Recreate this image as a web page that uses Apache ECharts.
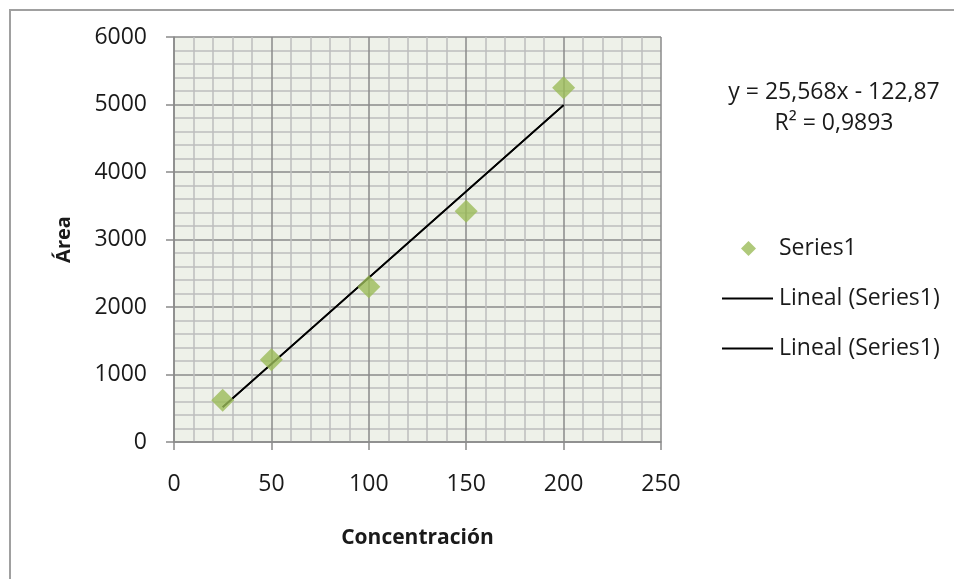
<!DOCTYPE html>
<html>
<head>
<meta charset="utf-8">
<script src="https://cdn.jsdelivr.net/npm/echarts@6/dist/echarts.min.js"></script>
<style>
  html, body { margin: 0; padding: 0; background: #ffffff; }
  #chart { width: 954px; height: 579px; }
</style>
</head>
<body>
<div id="chart"></div>
<script>
// Calibration data: concentration vs. peak area
const concentracion = [25, 50, 100, 150, 200];
const area = [620, 1220, 2300, 3420, 5250];

// Linear fit as reported with the chart
const pendiente = 25.568;
const intercepto = -122.87;
const r2 = 0.9893;

// Axis ticks
const xTicks = [0, 50, 100, 150, 200, 250];
const yTicks = [0, 1000, 2000, 3000, 4000, 5000, 6000];

const FONT = '"Open Sans"';
const fmt = (v, d) => v.toFixed(d).replace('.', ',');

const puntos = concentracion.map((x, i) => [x, area[i]]);
const xMin = concentracion[0], xMax = concentracion[concentracion.length - 1];
const ajuste = [xMin, xMax].map(x => [x, pendiente * x + intercepto]);

const ecuacion = 'y = ' + fmt(pendiente, 3) + 'x ' + (intercepto < 0 ? '- ' : '+ ') + fmt(Math.abs(intercepto), 2);
const rLinea = 'R² = ' + fmt(r2, 4);

const chart = echarts.init(document.getElementById('chart'), null, { renderer: 'canvas' });

const gridColorMajor = '#8a8a8a';
const gridColorMinor = '#bdbdbd';
const textColor = '#1a1a1a';

chart.setOption({
  animation: false,
  backgroundColor: '#ffffff',
  grid: {
    left: 174, top: 37, right: 293, bottom: 137,
    show: true, backgroundColor: '#eef1e9', borderWidth: 0
  },
  xAxis: {
    type: 'value',
    min: xTicks[0], max: xTicks[xTicks.length - 1], interval: 50,
    name: 'Concentración', nameLocation: 'middle', nameGap: 86,
    nameTextStyle: { fontFamily: FONT, fontWeight: 'bold', fontSize: 21, color: textColor },
    axisLine: { show: true, lineStyle: { color: gridColorMajor, width: 1.5 } },
    axisTick: { show: true, length: 8, lineStyle: { color: gridColorMajor, width: 1.5 } },
    axisLabel: { margin: 31, fontFamily: FONT, fontSize: 23, color: textColor,
                 formatter: v => String(v) },
    splitLine: { show: true, lineStyle: { color: gridColorMajor, width: 1.5 } },
    minorTick: { show: false, splitNumber: 5 },
    minorSplitLine: { show: true, lineStyle: { color: gridColorMinor, width: 1.5 } }
  },
  yAxis: {
    type: 'value',
    min: yTicks[0], max: yTicks[yTicks.length - 1], interval: 1000,
    name: 'Área', nameLocation: 'middle', nameGap: 100, nameRotate: 90,
    nameTextStyle: { fontFamily: FONT, fontWeight: 'bold', fontSize: 20, color: textColor },
    axisLine: { show: true, lineStyle: { color: gridColorMajor, width: 1.5 } },
    axisTick: { show: true, length: 8, lineStyle: { color: gridColorMajor, width: 1.5 } },
    axisLabel: { margin: 27, fontFamily: FONT, fontSize: 23, color: textColor,
                 formatter: v => String(v) },
    splitLine: { show: true, lineStyle: { color: gridColorMajor, width: 1.5 } },
    minorTick: { show: false, splitNumber: 5 },
    minorSplitLine: { show: true, lineStyle: { color: gridColorMinor, width: 1.5 } }
  },
  legend: [
    {
      data: [{ name: 'Series1', icon: 'diamond' }],
      left: 736, top: 232, orient: 'vertical',
      itemWidth: 15, itemHeight: 15,
      textStyle: { fontFamily: FONT, fontSize: 23, color: textColor, padding: [0, 0, 0, 18] },
      selectedMode: false
    },
    {
      data: [{ name: 'Lineal (Series1)', icon: 'rect', itemStyle: { color: '#000' } }],
      left: 717, top: 282, orient: 'vertical',
      itemWidth: 51, itemHeight: 2,
      textStyle: { fontFamily: FONT, fontSize: 23, color: textColor, padding: [0, 0, 0, 1] },
      selectedMode: false
    },
    {
      data: [{ name: 'Lineal (Series1)', icon: 'rect', itemStyle: { color: '#000' } }],
      left: 717, top: 332, orient: 'vertical',
      itemWidth: 51, itemHeight: 2,
      textStyle: { fontFamily: FONT, fontSize: 23, color: textColor, padding: [0, 0, 0, 1] },
      selectedMode: false
    }
  ],
  graphic: [
    {
      type: 'rect', silent: true, z: -1,
      shape: { x: 10, y: 10, width: 960, height: 600 },
      style: { fill: 'none', stroke: '#a0a0a0', lineWidth: 2 }
    },
    {
      type: 'text', silent: true,
      x: 834, y: 77,
      style: {
        text: ecuacion + '\n' + rLinea,
        align: 'center', verticalAlign: 'top',
        fontFamily: 'Open Sans', fontSize: 23, fill: textColor, lineHeight: 31
      }
    }
  ],
  series: [
    {
      name: 'Lineal (Series1)', type: 'line', data: ajuste,
      symbol: 'none', z: 3,
      lineStyle: { color: '#000', width: 1.8 }
    },
    {
      name: 'Lineal (Series1)', type: 'line', data: ajuste,
      symbol: 'none', z: 3,
      lineStyle: { color: '#000', width: 1.8 }
    },
    {
      name: 'Series1', type: 'scatter', data: puntos,
      symbol: 'diamond', symbolSize: 23, z: 4,
      itemStyle: { color: '#9bbb59' }
    }
  ]
});
</script>
</body>
</html>
